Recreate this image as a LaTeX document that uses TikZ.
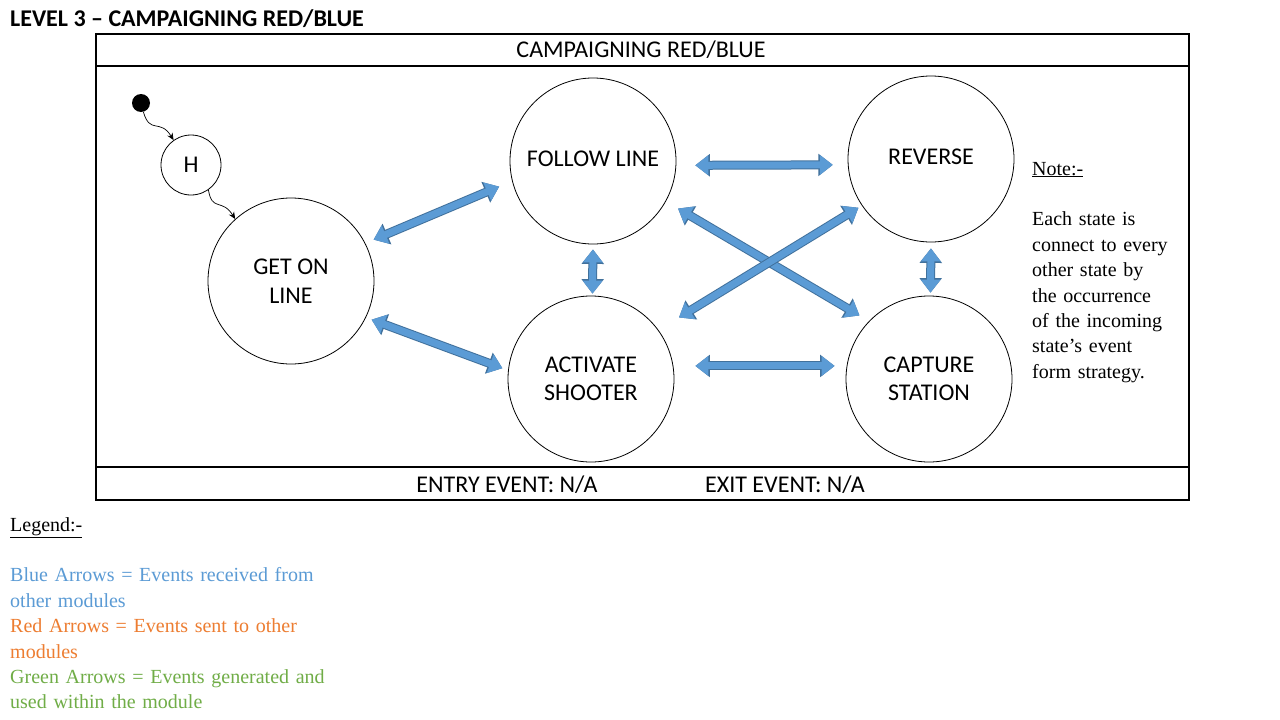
\documentclass[tikz,border=0pt]{standalone}
\usepackage{fontspec}
\setmainfont{Carlito}
\newfontfamily\tnr{Liberation Serif}
\usetikzlibrary{arrows.meta}
\definecolor{ablue}{HTML}{5B9BD5}
\definecolor{adark}{HTML}{41719C}
\definecolor{lgblue}{HTML}{5B9BD5}
\definecolor{lgred}{HTML}{ED7D31}
\definecolor{lggreen}{HTML}{70AD47}
\begin{document}
\begin{tikzpicture}[x=1pt,y=-1pt,
  state/.style={circle,draw,line width=0.8pt,minimum size=166pt,inner sep=0pt,align=center,
    font=\fontsize{24}{28.5}\selectfont},
  barrow/.style={draw=ablue,line width=7pt,
    {Triangle[width=19pt,length=13pt]}-{Triangle[width=19pt,length=13pt]},
    preaction={draw=adark,line width=9pt,
      {Triangle[width=21.5pt,length=14.5pt]}-{Triangle[width=21.5pt,length=14.5pt]}}},
  smallarr/.style={draw=black,line width=0.7pt,-{Stealth[length=7pt,width=6pt]}},
  caltext/.style={inner sep=0pt,anchor=base,font=\fontsize{24}{28.5}\selectfont},
  serifblock/.style={inner sep=0pt,anchor=base west,text width=170pt,align=left,
    font=\tnr\fontsize{20}{25.4}\selectfont}]
\useasboundingbox[fill=white] (0,0) rectangle (1280,720);
% title
\node[inner sep=0pt,anchor=base west,font=\bfseries\fontsize{24}{28}\selectfont] (title) at (10,27) {LEVEL 3 – CAMPAIGNING RED/BLUE};
% frame
\draw[line width=1.2pt] (96,34) rectangle (1189,500);
\draw[line width=2pt] (1188.5,34) -- (1188.5,500);
\draw[line width=1.2pt] (96,66) -- (1189,66);
\draw[line width=1.2pt] (96,467) -- (1189,467);
\node[caltext] (head) at (641,57) {CAMPAIGNING RED/BLUE};
\node[caltext] (entry) at (507,492) {ENTRY EVENT: N/A};
\node[caltext] (exit) at (785,492) {EXIT EVENT: N/A};
% states
\node[circle,fill=black,minimum size=18pt,inner sep=0pt] (init) at (141,103) {};
\node[state,minimum size=60pt] (h) at (191,165) {H};
\node[state] (gol) at (291,281) {GET ON\\LINE};
\node[state] (fl) at (593,161) {\raisebox{4pt}{FOLLOW LINE}};
\node[state] (rv) at (931,159) {\raisebox{5pt}{REVERSE}};
\node[state] (as) at (591,379) {ACTIVATE\\SHOOTER};
\node[state] (cs) at (929,379) {CAPTURE\\STATION};
% small arrows
\draw[smallarr] (init.-75) .. controls (150,135) and (160,118) .. (h.125);
\draw[smallarr] (h.-55) .. controls (212,212) and (222,198) .. (gol.132);
% block arrows
\draw[barrow,shorten <=9pt,shorten >=14pt] (gol.27) -- (fl.194);
\draw[barrow,shorten <=6pt,shorten >=6pt] (gol.-26) -- (as.174);
\draw[barrow,shorten <=19pt,shorten >=15pt] (fl.-3.45) -- (rv.184.84);
\draw[barrow,shorten <=22pt,shorten >=12pt] (as.9) -- (cs.171);
\draw[barrow,shorten <=5pt,shorten >=2pt] (fl.-90.7) -- (as.89.3);
\draw[barrow,shorten <=6pt,shorten >=3pt] (rv.-90.7) -- (cs.89.3);
\draw[barrow,shorten <=14pt,shorten >=11pt] (fl.-29) -- (cs.136);
\draw[barrow,shorten <=4pt,shorten >=24pt] (rv.214) -- (as.36);
% note
\node[serifblock] (note) at (1032,175) {\underline{Note:-}\\[25.4pt]
\makebox[107pt][s]{Each state is}\\ \makebox[138pt][s]{connect to every}\\ other state by\\ the occurrence\\ of the incoming\\ state’s event\\ form strategy.};
% legend
\node[serifblock,text width=340pt] (legend) at (10,531) {\underline{Legend:-}\\[25.4pt]
\textcolor{lgblue}{\makebox[313pt][s]{Blue Arrows = Events received from}}\\
\textcolor{lgblue}{other modules}\\
\textcolor{lgred}{\makebox[293pt][s]{Red Arrows = Events sent to other}}\\
\textcolor{lgred}{modules}\\
\textcolor{lggreen}{\makebox[324pt][s]{Green Arrows = Events generated and}}\\
\textcolor{lggreen}{used within the module}};
\end{tikzpicture}
\end{document}
